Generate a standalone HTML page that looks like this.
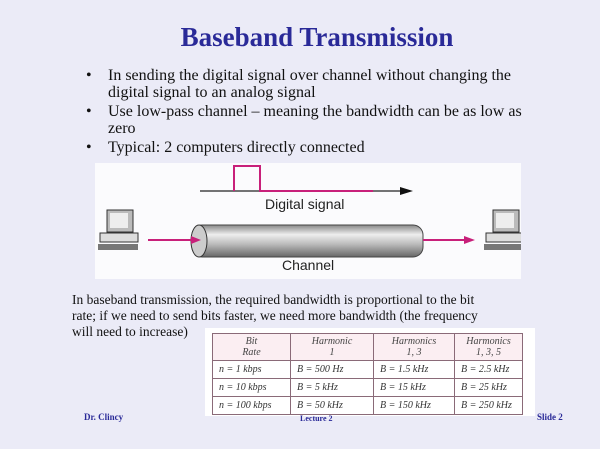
<!DOCTYPE html>
<html><head><style>
body{margin:0;width:600px;height:449px;background:#ebebf7;position:relative;overflow:hidden;font-family:"Liberation Serif",serif;color:#111}
.a{position:absolute;white-space:nowrap}
.b{font-size:16px;line-height:17px}
td{border:1px solid #8a6a78;font-style:italic;font-size:10px;color:#333;padding:0 0 0 6px;height:17px}
th{border:1px solid #8a6a78;font-style:italic;font-weight:normal;font-size:10px;color:#444;height:24px;line-height:11px;background:#fbeef2}
</style></head><body>
<div class="a" style="left:0;width:634px;top:22px;text-align:center;font-size:27px;font-weight:bold;color:#2a2a98">Baseband Transmission</div>
<div class="a b" style="left:86px;top:67px">•</div>
<div class="a b" style="left:108px;top:67px">In sending the digital signal over channel without changing the<br>digital signal to an analog signal</div>
<div class="a b" style="left:86px;top:103px">•</div>
<div class="a b" style="left:108px;top:103px">Use low-pass channel – meaning the bandwidth can be as low as<br>zero</div>
<div class="a b" style="left:86px;top:139px">•</div>
<div class="a b" style="left:108px;top:139px">Typical: 2 computers directly connected</div>
<svg class="a" style="left:95px;top:163px" width="426" height="116">
<rect width="426" height="116" fill="#fbfbfd"/>
<line x1="105" y1="28" x2="310" y2="28" stroke="#222" stroke-width="1.3"/>
<polyline points="139,28 139,3 165,3 165,28 278,28" fill="none" stroke="#c8207a" stroke-width="2"/>
<polygon points="318,28 305,24 305,32" fill="#111"/>
<text x="170" y="46" font-family="Liberation Sans" font-size="14" fill="#222">Digital signal</text>
<defs><linearGradient id="g" x1="0" y1="0" x2="0" y2="1"><stop offset="0" stop-color="#888"/><stop offset=".3" stop-color="#eee"/><stop offset=".6" stop-color="#bbb"/><stop offset="1" stop-color="#666"/></linearGradient></defs>
<rect x="97" y="62" width="231" height="32" rx="10" fill="url(#g)" stroke="#444"/>
<ellipse cx="104" cy="78" rx="8" ry="16" fill="#ccc" stroke="#333"/>
<line x1="53" y1="77" x2="100" y2="77" stroke="#c8207a" stroke-width="2"/><polygon points="106,77 96,73 96,81" fill="#c8207a"/>
<line x1="328" y1="77" x2="370" y2="77" stroke="#c8207a" stroke-width="2"/><polygon points="380,77 369,73 369,81" fill="#c8207a"/>
<text x="187" y="107" font-family="Liberation Sans" font-size="14" fill="#222">Channel</text>
<g><rect x="12" y="47" width="26" height="22" fill="#bbb" stroke="#333"/><rect x="15" y="50" width="18" height="15" fill="#eee"/><rect x="5" y="70" width="38" height="9" fill="#ddd" stroke="#333"/><rect x="3" y="81" width="40" height="6" fill="#777"/></g>
<g><rect x="398" y="47" width="26" height="22" fill="#bbb" stroke="#333"/><rect x="401" y="50" width="18" height="15" fill="#eee"/><rect x="391" y="70" width="38" height="9" fill="#ddd" stroke="#333"/><rect x="389" y="81" width="40" height="6" fill="#777"/></g>
</svg>
<div class="a" style="left:72px;top:292px;font-size:13.5px;line-height:16px">In baseband transmission, the required bandwidth is proportional to the bit<br>rate; if we need to send bits faster, we need more bandwidth (the frequency<br>will need to increase)</div>
<div class="a" style="left:205px;top:328px;width:330px;height:88px;background:#fff"></div>
<table class="a" style="left:212px;top:333px;border-collapse:collapse;width:311px">
<tr><th style="width:75px">Bit<br>Rate</th><th style="width:80px">Harmonic<br>1</th><th style="width:78px">Harmonics<br>1, 3</th><th>Harmonics<br>1, 3, 5</th></tr>
<tr><td>n = 1 kbps</td><td>B = 500 Hz</td><td>B = 1.5 kHz</td><td>B = 2.5 kHz</td></tr>
<tr><td>n = 10 kbps</td><td>B = 5 kHz</td><td>B = 15 kHz</td><td>B = 25 kHz</td></tr>
<tr><td>n = 100 kbps</td><td>B = 50 kHz</td><td>B = 150 kHz</td><td>B = 250 kHz</td></tr>
</table>
<div class="a" style="left:84px;top:412px;font-size:9px;font-weight:bold;color:#2a2a98">Dr. Clincy</div>
<div class="a" style="left:300px;top:414px;font-size:8px;font-weight:bold;color:#2a2a98">Lecture 2</div>
<div class="a" style="left:537px;top:412px;font-size:9px;font-weight:bold;color:#2a2a98">Slide 2</div>
</body></html>
